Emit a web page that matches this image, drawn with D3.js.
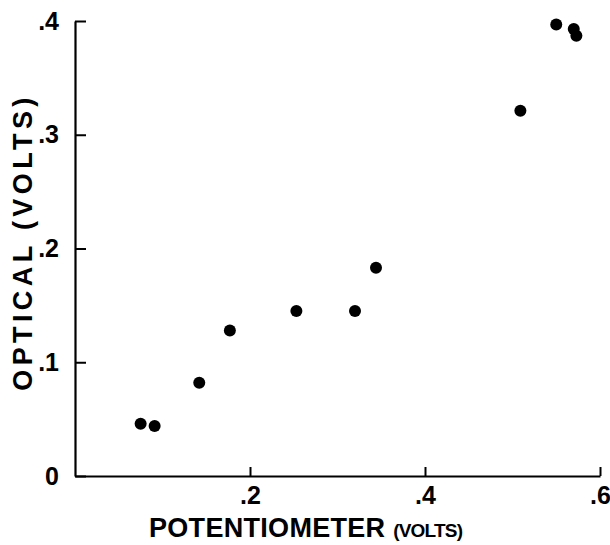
<!DOCTYPE html>
<html>
<head>
    <script src="https://d3js.org/d3.v7.min.js"></script>
    <style>
        body { margin: 0; background: white; }
        text { font-family: "Liberation Sans", Arial, sans-serif; fill: black; }
        .tick text { font-size: 25px; font-weight: bold; }
        .axis-title { font-size: 27px; font-weight: bold; }
    </style>
</head>
<body>
    <svg width="610" height="545"></svg>
    <script>
        // readings from the picture
        const potentiometer = [0.075, 0.091, 0.142, 0.177, 0.253, 0.320, 0.344, 0.509, 0.550, 0.570, 0.573];
        const optical       = [0.046, 0.044, 0.082, 0.128, 0.145, 0.145, 0.183, 0.321, 0.397, 0.393, 0.387];
        const xTicks = [0.2, 0.4, 0.6];
        const yTicks = [0, 0.1, 0.2, 0.3, 0.4];

        const plotLeft = 75, plotRight = 600, plotTop = 21, plotBottom = 476;

        const svg = d3.select("svg");

        const x = d3.scaleLinear().domain([0, 0.6]).range([plotLeft, plotRight]);
        const y = d3.scaleLinear().domain([0, 0.4]).range([plotBottom, plotTop]);

        const fmt = function(d) { return d === 0 ? "0" : d3.format(".1f")(d).replace(/^0/, ""); };

        const xAxis = svg.append("g")
            .attr("transform", "translate(0," + plotBottom + ")")
            .call(d3.axisBottom(x).tickValues(xTicks).tickFormat(fmt)
                .tickSizeInner(-9).tickSizeOuter(0).tickPadding(8));

        const yAxis = svg.append("g")
            .attr("transform", "translate(" + plotLeft + ",0)")
            .call(d3.axisLeft(y).tickValues(yTicks).tickFormat(fmt)
                .tickSizeInner(-11).tickSizeOuter(0).tickPadding(16));

        [xAxis, yAxis].forEach(function(a) {
            a.select(".domain").attr("stroke-width", 2.2);
            a.selectAll(".tick line").attr("stroke-width", 2);
            a.selectAll(".tick text").attr("fill", "black");
        });
        xAxis.selectAll(".tick text").attr("dy", "0.78em");

        // x title, with the smaller unit
        const xt = svg.append("text")
            .attr("class", "axis-title")
            .attr("x", 149)
            .attr("y", 537)
            .style("letter-spacing", "0.3px");
        xt.append("tspan").text("POTENTIOMETER ");
        xt.append("tspan").style("font-size", "19px").style("letter-spacing", "-0.8px").text("(VOLTS)");

        // y title
        svg.append("text")
            .attr("class", "axis-title")
            .attr("transform", "translate(32,242) rotate(-90)")
            .attr("text-anchor", "middle")
            .style("letter-spacing", "4.4px")
            .text("OPTICAL (VOLTS)");

        svg.selectAll(".dot")
            .data(potentiometer)
            .enter().append("circle")
            .attr("class", "dot")
            .attr("cx", function(d) { return x(d); })
            .attr("cy", function(d, i) { return y(optical[i]); })
            .attr("r", 6)
            .attr("fill", "black");
    </script>
</body>
</html>
